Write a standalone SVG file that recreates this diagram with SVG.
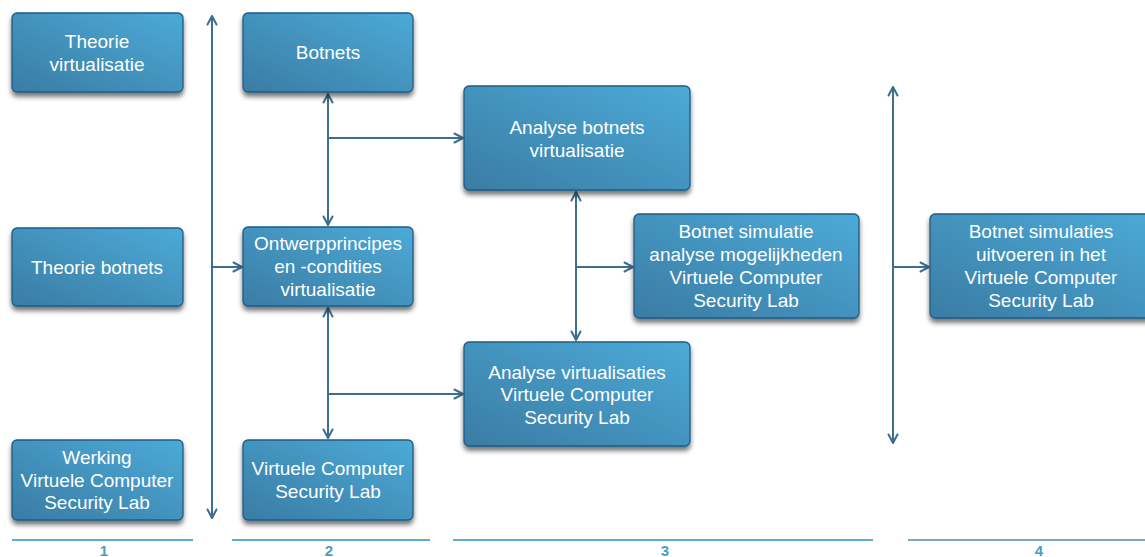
<svg xmlns="http://www.w3.org/2000/svg" width="1145" height="557" viewBox="0 0 1145 557">
  <defs>
    <linearGradient id="boxFill" x1="0" y1="1" x2="1" y2="0">
      <stop offset="0" stop-color="#3a7ca4"/>
      <stop offset="1" stop-color="#4caad7"/>
    </linearGradient>
    <filter id="shadow" x="-10%" y="-10%" width="120%" height="130%">
      <feGaussianBlur in="SourceAlpha" stdDeviation="2.5"/>
      <feOffset dx="0" dy="4" result="b"/>
      <feComponentTransfer><feFuncA type="linear" slope="0.55"/></feComponentTransfer>
      <feMerge><feMergeNode/><feMergeNode in="SourceGraphic"/></feMerge>
    </filter>
    <marker id="arrow" viewBox="0 0 12 12" refX="10.5" refY="6" markerWidth="12" markerHeight="12" markerUnits="userSpaceOnUse" orient="auto-start-reverse">
      <path d="M2,1.5 L10.5,6 L2,10.5" fill="none" stroke="#3d6e8e" stroke-width="2" stroke-linecap="round" stroke-linejoin="round"/>
    </marker>
  </defs>
  <style>
    .box { fill: url(#boxFill); stroke: #1e5c86; stroke-width: 1.3; filter: url(#shadow); }
    .lbl { font-family: "Liberation Sans", Arial, sans-serif; font-size: 19px; fill: #ffffff; text-anchor: middle; }
    .conn { fill: none; stroke: #3d6e8e; stroke-width: 2; }
    .rule { stroke: #5aaed6; stroke-width: 2; }
    .num { font-family: "Liberation Sans", Arial, sans-serif; font-size: 15px; font-weight: bold; fill: #4a9cc8; text-anchor: middle; }
  </style>

  <rect width="1145" height="557" fill="#ffffff"/>

  <!-- connectors -->
  <g id="connectors">
    <line class="conn" x1="212" y1="16" x2="212" y2="518" marker-start="url(#arrow)" marker-end="url(#arrow)"/>
    <line class="conn" x1="212" y1="267" x2="242" y2="267" marker-end="url(#arrow)"/>
    <line class="conn" x1="328" y1="94" x2="328" y2="225" marker-start="url(#arrow)" marker-end="url(#arrow)"/>
    <line class="conn" x1="328" y1="138" x2="463" y2="138" marker-end="url(#arrow)"/>
    <line class="conn" x1="328" y1="308" x2="328" y2="438" marker-start="url(#arrow)" marker-end="url(#arrow)"/>
    <line class="conn" x1="328" y1="394" x2="463" y2="394" marker-end="url(#arrow)"/>
    <line class="conn" x1="576" y1="192" x2="576" y2="340" marker-start="url(#arrow)" marker-end="url(#arrow)"/>
    <line class="conn" x1="576" y1="267" x2="633" y2="267" marker-end="url(#arrow)"/>
    <line class="conn" x1="893" y1="87" x2="893" y2="443" marker-start="url(#arrow)" marker-end="url(#arrow)"/>
    <line class="conn" x1="893" y1="267" x2="929" y2="267" marker-end="url(#arrow)"/>
  </g>

  <!-- column 1 -->
  <g id="theorie-virtualisatie">
    <rect class="box" x="12" y="13" width="171" height="79" rx="5"/>
    <text class="lbl" x="97" y="47.5">Theorie</text>
    <text class="lbl" x="97" y="70.5">virtualisatie</text>
  </g>
  <g id="theorie-botnets">
    <rect class="box" x="12" y="228" width="171" height="78" rx="5"/>
    <text class="lbl" x="97" y="273.5">Theorie botnets</text>
  </g>
  <g id="werking-vcsl">
    <rect class="box" x="12" y="440" width="171" height="80" rx="5"/>
    <text class="lbl" x="97" y="463.5">Werking</text>
    <text class="lbl" x="97" y="486.5">Virtuele Computer</text>
    <text class="lbl" x="97" y="508.5">Security Lab</text>
  </g>

  <!-- column 2 -->
  <g id="botnets">
    <rect class="box" x="243" y="13" width="170" height="79" rx="5"/>
    <text class="lbl" x="328" y="58.5">Botnets</text>
  </g>
  <g id="ontwerpprincipes">
    <rect class="box" x="243" y="227" width="170" height="79" rx="5"/>
    <text class="lbl" x="328" y="249.5">Ontwerpprincipes</text>
    <text class="lbl" x="328" y="272.5">en -condities</text>
    <text class="lbl" x="328" y="295.5">virtualisatie</text>
  </g>
  <g id="vcsl">
    <rect class="box" x="243" y="440" width="170" height="80" rx="5"/>
    <text class="lbl" x="328" y="474.5">Virtuele Computer</text>
    <text class="lbl" x="328" y="497.5">Security Lab</text>
  </g>

  <!-- column 3 -->
  <g id="analyse-botnets">
    <rect class="box" x="464" y="86" width="226" height="104" rx="5"/>
    <text class="lbl" x="577" y="133.5">Analyse botnets</text>
    <text class="lbl" x="577" y="156.5">virtualisatie</text>
  </g>
  <g id="botnet-simulatie-analyse">
    <rect class="box" x="634" y="214" width="225" height="104" rx="5"/>
    <text class="lbl" x="746" y="237.5">Botnet simulatie</text>
    <text class="lbl" x="746" y="260.5">analyse mogelijkheden</text>
    <text class="lbl" x="746" y="283.5">Virtuele Computer</text>
    <text class="lbl" x="746" y="306.5">Security Lab</text>
  </g>
  <g id="analyse-virtualisaties">
    <rect class="box" x="464" y="342" width="226" height="104" rx="5"/>
    <text class="lbl" x="577" y="378.5">Analyse virtualisaties</text>
    <text class="lbl" x="577" y="400.5">Virtuele Computer</text>
    <text class="lbl" x="577" y="423.5">Security Lab</text>
  </g>

  <!-- column 4 -->
  <g id="botnet-simulaties-uitvoeren">
    <rect class="box" x="930" y="214" width="225" height="104" rx="5"/>
    <text class="lbl" x="1041" y="237.5">Botnet simulaties</text>
    <text class="lbl" x="1041" y="260.5">uitvoeren in het</text>
    <text class="lbl" x="1041" y="283.5">Virtuele Computer</text>
    <text class="lbl" x="1041" y="306.5">Security Lab</text>
  </g>

  <!-- phase rulers -->
  <g id="phases">
    <line class="rule" x1="12" y1="540" x2="193" y2="540"/>
    <line class="rule" x1="232" y1="540" x2="430" y2="540"/>
    <line class="rule" x1="453" y1="540" x2="873" y2="540"/>
    <line class="rule" x1="908" y1="540" x2="1145" y2="540" style="stroke:#7fa8c0"/>
    <text class="num" x="104" y="556">1</text>
    <text class="num" x="329" y="556">2</text>
    <text class="num" x="665" y="556">3</text>
    <text class="num" x="1039" y="556">4</text>
  </g>
</svg>
